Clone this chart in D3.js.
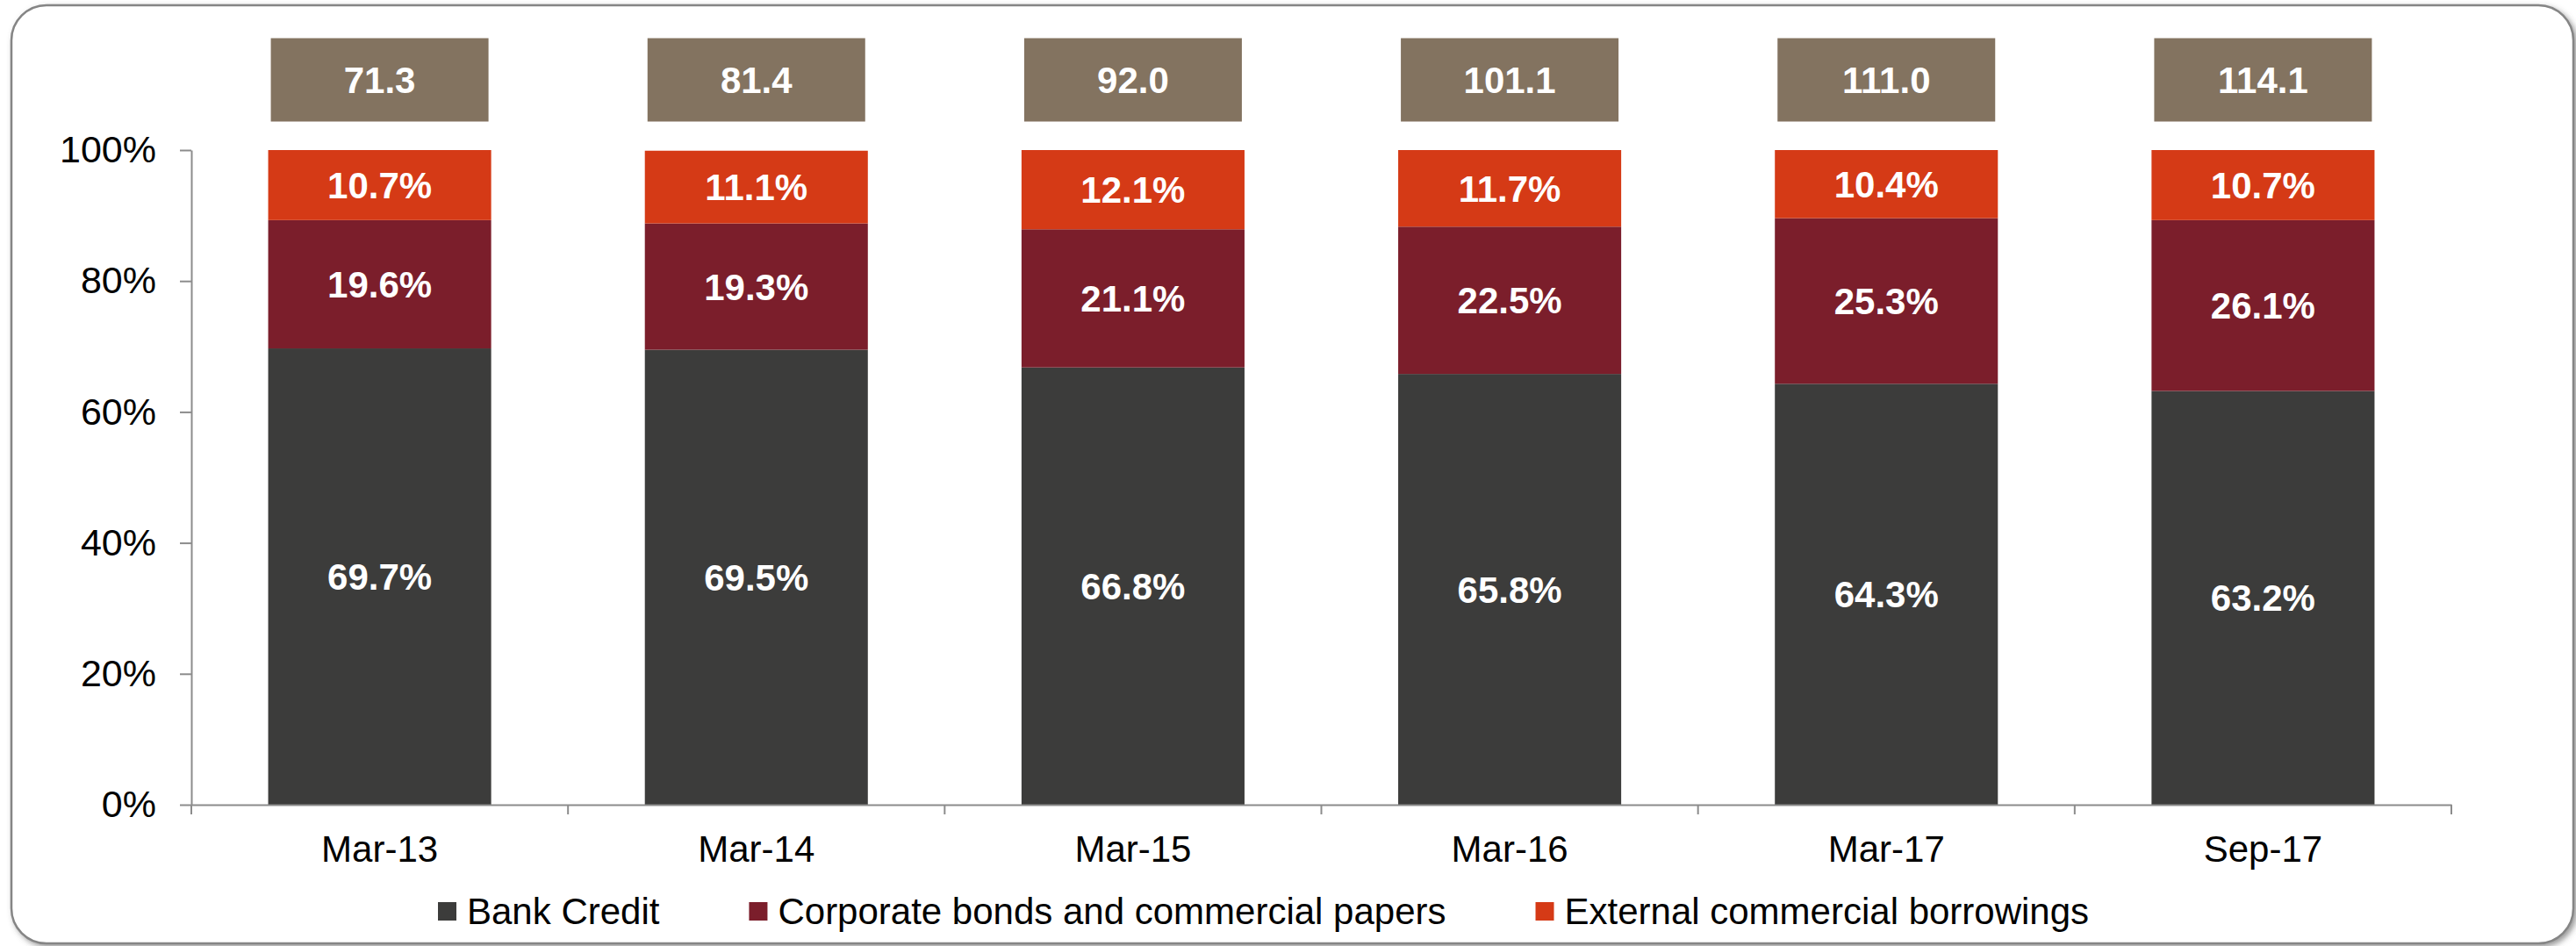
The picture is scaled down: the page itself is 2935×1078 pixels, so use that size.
<!DOCTYPE html>
<html>
<head>
<meta charset="utf-8">
<script src="https://cdn.jsdelivr.net/npm/d3@7"></script>
<style>
  html, body { margin: 0; padding: 0; background: #fff; }
  svg { display: block; font-family: "Liberation Sans", Arial, sans-serif; }
</style>
</head>
<body>
<svg id="chart" width="2935" height="1078"></svg>
<script>
// data
const categories = ["Mar-13", "Mar-14", "Mar-15", "Mar-16", "Mar-17", "Sep-17"]
const bankCredit = [69.7, 69.5, 66.8, 65.8, 64.3, 63.2]
const corpBonds = [19.6, 19.3, 21.1, 22.5, 25.3, 26.1]
const ecb = [10.7, 11.1, 12.1, 11.7, 10.4, 10.7]
const totals = [71.3, 81.4, 92.0, 101.1, 111.0, 114.1]
const yTicks = [0, 20, 40, 60, 80, 100]

const seriesNames = ["Bank Credit", "Corporate bonds and commercial papers", "External commercial borrowings"]
const seriesColors = ["#3c3c3b", "#7b1e2b", "#d53a16"]
const seriesValues = [bankCredit, corpBonds, ecb]

const svg = d3.select("#chart")

// rounded frame with soft shadow
const defs = svg.append("defs")
const shadow = defs.append("filter").attr("id", "shadow")
    .attr("x", "-5%").attr("y", "-5%").attr("width", "110%").attr("height", "110%")
shadow.append("feDropShadow")
    .attr("dx", 3).attr("dy", 3).attr("stdDeviation", 3)
    .attr("flood-color", "#555").attr("flood-opacity", 0.6)

svg.append("rect")
    .attr("x", 13).attr("y", 6)
    .attr("width", 2919).attr("height", 1069)
    .attr("rx", 40).attr("ry", 40)
    .attr("fill", "#fff")
    .attr("stroke", "#858585")
    .attr("stroke-width", 2.5)
    .attr("filter", "url(#shadow)")

// scales
const x = d3.scaleBand()
    .domain(categories)
    .range([218, 2793])
    .paddingInner(0.408)
    .paddingOuter(0.204)

const y = d3.scaleLinear()
    .domain([0, 100])
    .range([917, 171])

// stacked data
const rows = categories.map((c, i) => {
    const r = { cat: c }
    seriesNames.forEach((s, j) => r[s] = seriesValues[j][i])
    return r
})
const stacked = d3.stack().keys(seriesNames)(rows)

const layers = svg.append("g").selectAll("g")
    .data(stacked)
    .join("g")
    .attr("fill", (d, i) => seriesColors[i])

layers.selectAll("rect")
    .data(d => d)
    .join("rect")
        .attr("x", d => x(d.data.cat))
        .attr("y", d => y(d[1]))
        .attr("width", x.bandwidth())
        .attr("height", d => y(d[0]) - y(d[1]))

// segment labels
layers.selectAll("text")
    .data(d => d)
    .join("text")
        .attr("x", d => x(d.data.cat) + x.bandwidth() / 2)
        .attr("y", d => (y(d[0]) + y(d[1])) / 2)
        .attr("dy", "0.36em")
        .attr("text-anchor", "middle")
        .attr("fill", "#fff")
        .attr("font-size", 42)
        .attr("font-weight", "bold")
        .text(d => (d[1] - d[0]).toFixed(1) + "%")

// total boxes on top
const boxes = svg.append("g").selectAll("g")
    .data(categories)
    .join("g")
    .attr("transform", d => `translate(${x(d) + x.bandwidth() / 2}, 91)`)

boxes.append("rect")
    .attr("x", -124).attr("y", -47.5)
    .attr("width", 248).attr("height", 95)
    .attr("fill", "#837360")

boxes.append("text")
    .attr("text-anchor", "middle")
    .attr("dy", "0.36em")
    .attr("fill", "#fff")
    .attr("font-size", 42)
    .attr("font-weight", "bold")
    .text((d, i) => totals[i].toFixed(1))

// y axis
const yAxis = svg.append("g")
    .attr("transform", "translate(218,0)")
    .call(d3.axisLeft(y)
        .tickValues(yTicks)
        .tickSize(13)
        .tickSizeOuter(0)
        .tickPadding(27)
        .tickFormat(d => d + "%"))
yAxis.selectAll("path, line").attr("stroke", "#8c8c8c").attr("stroke-width", 2)
yAxis.selectAll("text").attr("font-size", 43).attr("fill", "#000").attr("font-family", null)

// x axis
const xAxis = svg.append("g")
    .attr("transform", "translate(0,917)")
    .call(d3.axisBottom(x).tickSize(0).tickSizeOuter(0).tickPadding(35))
xAxis.select(".domain").attr("stroke", "#8c8c8c").attr("stroke-width", 2)
xAxis.selectAll("text").attr("font-size", 42).attr("fill", "#000").attr("font-family", null)

// category boundary ticks
const bounds = d3.range(categories.length + 1).map(i => x.range()[0] + i * x.step())
xAxis.selectAll(".bound")
    .data(bounds)
    .join("line")
        .attr("class", "bound")
        .attr("x1", d => d).attr("x2", d => d)
        .attr("y1", 0).attr("y2", 11)
        .attr("stroke", "#8c8c8c")
        .attr("stroke-width", 2)

// legend
const legend = svg.append("g").attr("transform", "translate(499,1053)")
let lx = 0
seriesNames.forEach((name, i) => {
    const item = legend.append("g").attr("transform", `translate(${lx},0)`)
    item.append("rect")
        .attr("x", 0).attr("y", -25)
        .attr("width", 21).attr("height", 21)
        .attr("fill", seriesColors[i])
    const t = item.append("text")
        .attr("x", 33)
        .attr("font-size", 42)
        .attr("fill", "#000")
        .text(name)
    lx += 33 + t.node().getComputedTextLength() + 102
})
</script>
</body>
</html>
